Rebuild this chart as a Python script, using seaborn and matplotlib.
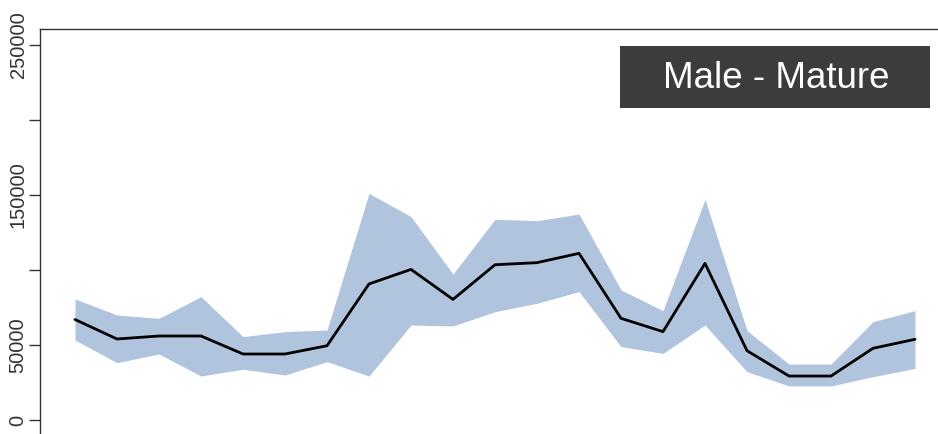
import numpy as np
import pandas as pd
import seaborn as sns
import matplotlib.pyplot as plt
from matplotlib.patches import Rectangle


# sampling occasions (x axis is not labelled in the original)
occasion = list(range(1, 22))

# estimated abundance and its interval
estimate = [67000, 54000, 56000, 56000, 44000, 44000, 49500, 90700, 100400, 80400, 103500,
            104900, 111100, 67800, 58900, 104400, 46200, 29300, 29300, 47800, 53800]
upper = [80700, 70000, 67800, 82200, 55600, 58900, 60000, 151100, 135600, 97300, 133800,
         132900, 137300, 86700, 72900, 147100, 59600, 37300, 37300, 65600, 72900]
lower = [53300, 38200, 44000, 29300, 33800, 30000, 38900, 29300, 63300, 62700, 72200,
         77800, 85600, 48900, 44400, 63300, 32200, 22700, 22700, 28900, 34400]

yticks = [0, 50000, 100000, 150000, 200000, 250000]
ylabels = ["0", "50000", "", "150000", "", "250000"]
panel_label = "Male - Mature"


def main():
    df = pd.DataFrame({"occasion": occasion, "estimate": estimate,
                       "lower": lower, "upper": upper})

    sns.set_style("white")
    plt.rcParams['font.family'] = ['Liberation Sans', 'DejaVu Sans']

    fig = plt.figure(figsize=(9.38, 4.34), dpi=100)
    ax = fig.add_axes([40 / 938, 0, 898 / 938, 1 - 29 / 434])

    ax.fill_between(df["occasion"], df["lower"], df["upper"],
                    color="#b0c4de", linewidth=0, zorder=1)
    sns.lineplot(data=df, x="occasion", y="estimate", color="black",
                 linewidth=2, ax=ax, zorder=2)

    ax.set_xlim(1 - 35 / 42, 21 + 23 / 42)
    ax.set_ylim(-9333, 260667)
    ax.set_xticks([])
    ax.set_yticks(yticks)
    ax.set_yticklabels(ylabels, rotation=90, va="center", fontsize=14.5, color="#333333")
    ax.tick_params(axis="y", direction="out", length=8, width=1, color="#333333",
                   left=True, pad=1)
    ax.set_xlabel("")
    ax.set_ylabel("")

    for side in ["right", "bottom"]:
        ax.spines[side].set_visible(False)
    for side in ["left", "top"]:
        ax.spines[side].set_color("#333333")
        ax.spines[side].set_linewidth(1)

    # dark label box in the top right corner
    fig.patches.append(Rectangle((620 / 938, 1 - 108 / 434), 310 / 938, 62 / 434,
                                 transform=fig.transFigure, facecolor="#3c3c3c",
                                 edgecolor="none", zorder=5))
    fig.text(776 / 938, 1 - 78 / 434, panel_label, ha="center", va="center",
             fontsize=26.5, color="white", zorder=6)

    plt.savefig("out.png", dpi=100)


if __name__ == "__main__":
    main()
